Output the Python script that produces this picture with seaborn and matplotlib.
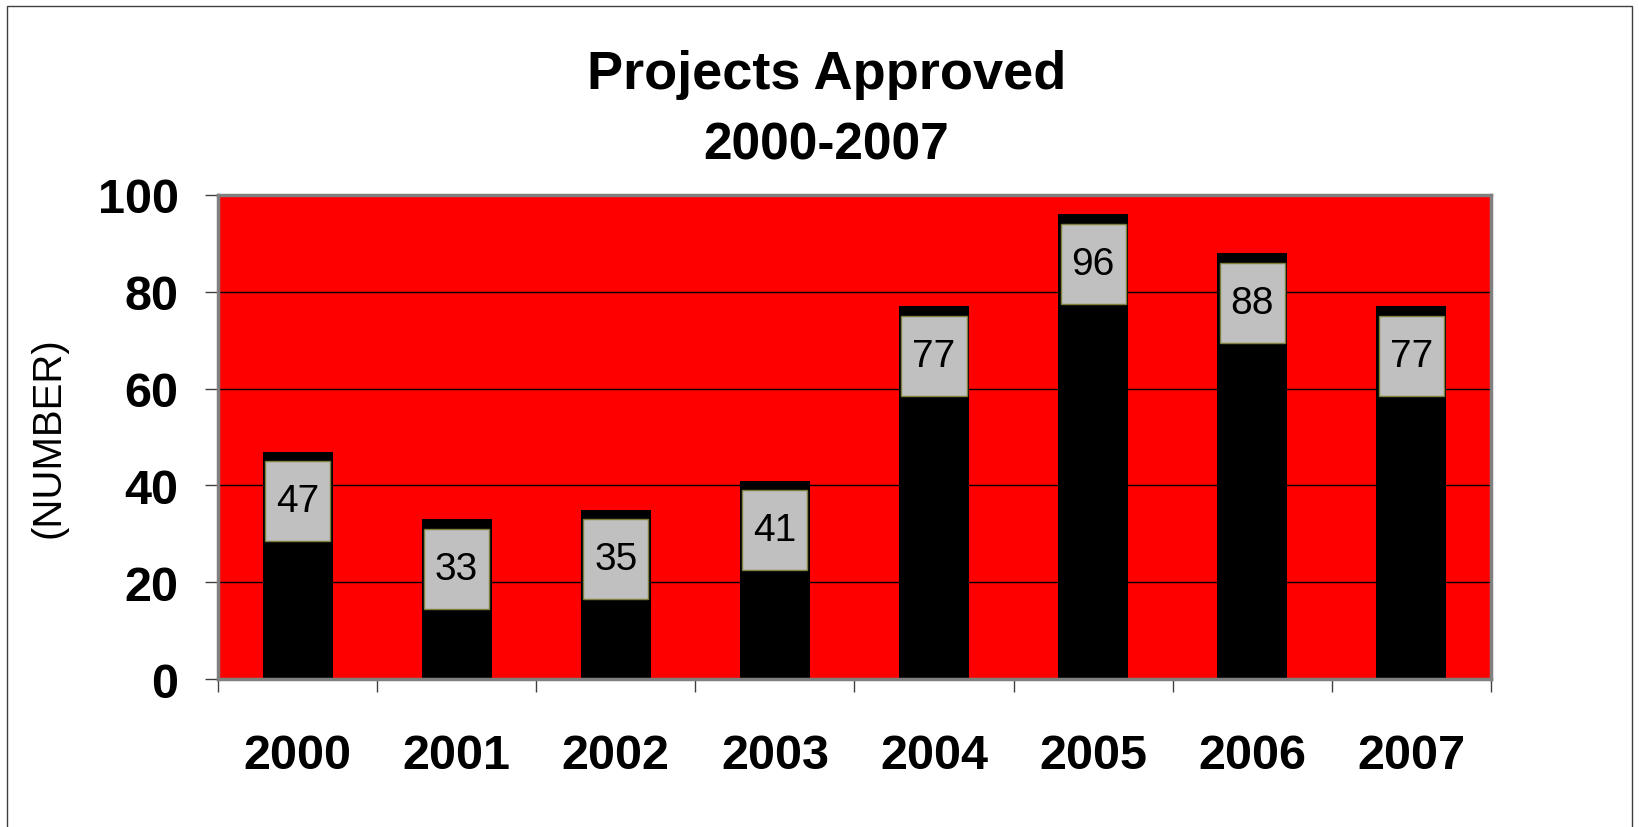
import numpy as np
import pandas as pd
import matplotlib
matplotlib.use("Agg")
import matplotlib.pyplot as plt
import seaborn as sns
from matplotlib.patches import Rectangle

# === Data ===
years = ["2000", "2001", "2002", "2003", "2004", "2005", "2006", "2007"]
approved = [47, 33, 35, 41, 77, 96, 88, 77]
y_ticks = [0, 20, 40, 60, 80, 100]

df = pd.DataFrame({"year": years, "approved": approved})

sns.set_style("white")
plt.rcParams["font.family"] = ["Liberation Sans", "DejaVu Sans"]
plt.rcParams["text.color"] = "black"
plt.rcParams["xtick.color"] = "black"
plt.rcParams["ytick.color"] = "black"
plt.rcParams["axes.labelcolor"] = "black"

fig = plt.figure(figsize=(16.4, 8.28), dpi=100)
ax = fig.add_axes([0.1329, 0.1787, 0.7762, 0.5846])
ax.set_facecolor("#ff0000")

# black bars
sns.barplot(data=df, x="year", y="approved", color="black", width=0.44,
            saturation=1, edgecolor="black", linewidth=0, ax=ax, zorder=2)

# grey label boxes near the top of each bar (Excel "inside end" labels)
pos = np.arange(len(years))
vals = np.array(approved, dtype=float)
box_top = vals - 2.0
box_h = 16.5
ax.bar(pos, box_h, bottom=box_top - box_h, width=0.41, color="#c0c0c0",
       edgecolor="#7f7f3f", linewidth=1, zorder=3)
for x, v, t in zip(pos, approved, box_top):
    ax.text(x, t - box_h / 2, str(v), ha="center", va="center",
            fontsize=28, color="black", zorder=4)

# axes limits and ticks
ax.set_xlim(-0.5, len(years) - 0.5)
ax.set_ylim(0, 100)
ax.set_yticks(y_ticks)
ax.set_yticklabels([str(t) for t in y_ticks], fontsize=35, fontweight="bold")
ax.set_xticks(pos)
ax.set_xticklabels(years, fontsize=35, fontweight="bold")
ax.set_xticks(np.arange(-0.5, len(years)), minor=True)
ax.tick_params(axis="x", which="major", length=0, pad=39, colors="black")
ax.tick_params(axis="x", which="minor", length=9.4, width=1, color="#404040",
               direction="out", bottom=True)
ax.tick_params(axis="y", which="major", length=9.4, width=1, color="#404040",
               labelcolor="black", direction="out", left=True, pad=19)
ax.set_xlabel("")
ax.set_ylabel("(NUMBER)", fontsize=29, color="black",
              family=["Liberation Sans Narrow", "Liberation Sans", "DejaVu Sans"])
ax.yaxis.set_label_coords(-0.118, 0.5)

ax.yaxis.grid(True, color="black", linewidth=1)
ax.xaxis.grid(False)
ax.set_axisbelow(True)
for s in ax.spines.values():
    s.set_visible(True)
    s.set_color("#808080")
    s.set_linewidth(2.5)

# title
fig.text(0.504, 1 - 89 / 828, "Projects Approved", ha="center", va="baseline",
         fontsize=39, fontweight="bold", color="black")
fig.text(0.504, 1 - 160 / 828, "2000-2007", ha="center", va="baseline",
         fontsize=37, fontweight="bold", color="black")

# outer chart border
fig.patches.append(Rectangle((7 / 1640, -0.02), (1632 - 7) / 1640, 1.02 - 7 / 828,
                             transform=fig.transFigure, fill=False,
                             edgecolor="#404040", linewidth=1))

fig.savefig("out.png", dpi=100)
